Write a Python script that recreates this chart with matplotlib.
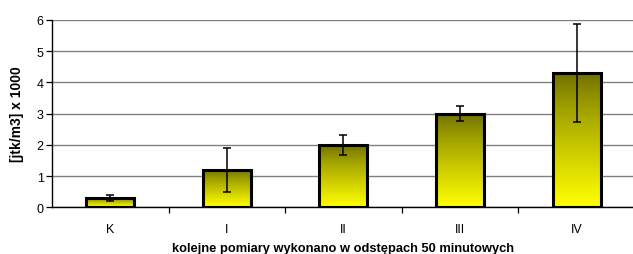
import matplotlib
matplotlib.use('Agg')
import matplotlib.pyplot as plt
import numpy as np

plt.rcParams['font.family'] = ['Liberation Sans', 'DejaVu Sans']

categories = ['K', 'I', 'II', 'III', 'IV']
values = [0.30, 1.20, 2.00, 3.00, 4.30]
errors = [0.09, 0.70, 0.33, 0.25, 1.56]

fig = plt.figure(figsize=(6.33, 2.55), dpi=100)
ax = fig.add_axes([0.082, 0.183, 0.921, 0.735])

x = np.arange(len(categories))
width = 0.41

# gradient: olive at top, yellow at bottom
top_col = np.array([0.42, 0.42, 0.0])
bot_col = np.array([1.0, 1.0, 0.0])
t = np.linspace(0, 1, 256) ** 0.8
grad = (top_col[None, :] * (1 - t[:, None]) + bot_col[None, :] * t[:, None])
grad = grad[:, None, :]

bars = ax.bar(x, values, width=width, facecolor='none', edgecolor='black',
              linewidth=2.2, zorder=4)
for b in bars:
    x0, y0 = b.get_x(), b.get_y()
    ax.imshow(grad, extent=[x0, x0 + b.get_width(), y0, y0 + b.get_height()],
              aspect='auto', origin='upper', zorder=3, interpolation='bilinear')

ax.errorbar(x, values, yerr=errors, fmt='none', ecolor='black',
            elinewidth=1.1, capsize=2.8, capthick=1.1, zorder=5)

ax.set_xlim(-0.5, 4.5)
ax.set_ylim(0, 6)
ax.set_yticks(range(7))
ax.yaxis.grid(True, color='#808080', linewidth=1.0)
ax.set_axisbelow(True)

ax.set_xticks(x)
ax.set_xticklabels(categories, fontsize=9)
ax.tick_params(axis='x', length=0, pad=11)
ax.set_xticks(np.arange(0.5, 4.5, 1.0), minor=True)
ax.tick_params(axis='x', which='minor', length=4, width=0.9, direction='out')
ax.tick_params(axis='y', labelsize=9, length=4, width=0.9, direction='out', pad=2)

for s in ['top', 'right']:
    ax.spines[s].set_visible(False)
ax.spines['left'].set_linewidth(1.0)
ax.spines['bottom'].set_linewidth(1.0)

ax.set_ylabel('[jtk/m3] x 1000', fontsize=10, fontweight='bold', labelpad=9)
ax.set_xlabel('kolejne pomiary wykonano w odstępach 50 minutowych',
              fontsize=9.3, fontweight='bold', labelpad=5.5)

fig.savefig('out.png', dpi=100)
